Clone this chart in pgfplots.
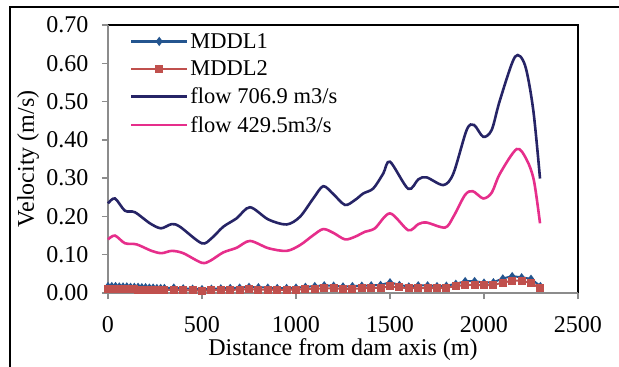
\documentclass[border=0pt]{standalone}
\usepackage{pgfplots}
\pgfplotsset{compat=1.18}
\usepackage{fontspec}
\setmainfont{Liberation Serif}
\definecolor{mddlone}{HTML}{24558F}
\definecolor{mddltwo}{HTML}{C0504D}
\definecolor{flowa}{HTML}{262466}
\definecolor{flowb}{HTML}{E62E8B}
\definecolor{axgrey}{HTML}{8C8C8C}
\begin{document}
\begin{tikzpicture}
\begin{axis}[
  at={(0,0)}, anchor=south west,
  scale only axis, width=470pt, height=268pt,
  xmin=0, xmax=2500, ymin=0, ymax=0.7,
  xtick={0,500,1000,1500,2000,2500},
  ytick={0,0.1,0.2,0.3,0.4,0.5,0.6,0.7},
  /pgf/number format/assume math mode=true,
  /pgf/number format/1000 sep={},
  yticklabel style={/pgf/number format/fixed,/pgf/number format/fixed zerofill,/pgf/number format/precision=2, xshift=-10pt},
  xticklabel style={yshift=-14pt},
  tick label style={font=\fontsize{24}{28}\selectfont},
  label style={font=\fontsize{24}{28}\selectfont},
  xlabel={Distance from dam axis (m)},
  ylabel={Velocity (m/s)},
  xlabel style={at={(axis description cs:0.5,-0.213)}, anchor=center},
  ylabel style={at={(axis description cs:-0.170,0.5)}, anchor=center},
  xtick pos=left, ytick pos=left,
  tick align=outside,
  major tick length=6pt,
  tick style={axgrey, line width=1.5pt},
  axis line style={draw=none},
  clip=false,
  legend style={at={(0.04,0.985)}, anchor=north west, draw=none, fill=none,
    font=\fontsize{22.5}{26}\selectfont, row sep=7pt,
    /tikz/every even column/.append style={column sep=2pt}},
  legend cell align=left,
  legend image code/.code={\draw[mark repeat=2, mark phase=2, #1, line width=2.5pt] plot coordinates {(0pt,0pt) (28pt,0pt) (56pt,0pt)};},
]
\draw[black, line width=1.5pt] (rel axis cs:0,1) -- (rel axis cs:1,1) -- (rel axis cs:1,0);
\draw[axgrey, line width=2pt] (rel axis cs:0,1) -- (rel axis cs:0,0) -- (rel axis cs:1,0);

\addplot[mddlone, line width=2pt, mark=diamond*, mark size=2.6pt, mark options={solid}] coordinates {
(0,0.018)(20,0.018)(40,0.018)(60,0.017)(80,0.017)(100,0.017)(120,0.016)(140,0.016)(160,0.016)(180,0.015)(200,0.015)(220,0.014)(240,0.014)(260,0.013)(280,0.013)(300,0.013)
(350,0.014)(400,0.012)(450,0.011)(500,0.010)(550,0.011)(600,0.012)(650,0.013)(700,0.014)(750,0.016)(800,0.015)(850,0.014)(900,0.013)(950,0.013)(1000,0.014)(1050,0.016)(1100,0.018)(1150,0.020)(1200,0.019)(1250,0.017)(1300,0.018)(1350,0.019)(1400,0.020)(1450,0.021)(1500,0.028)(1550,0.021)(1600,0.017)(1650,0.020)(1700,0.020)(1750,0.018)(1800,0.019)(1850,0.024)(1900,0.031)(1950,0.031)(2000,0.027)(2050,0.028)(2100,0.038)(2150,0.044)(2200,0.041)(2250,0.037)(2300,0.018)
};
\addlegendentry{MDDL1}
\addplot[mddltwo, line width=2pt, mark=square*, mark size=3pt, mark options={solid}] coordinates {
(0,0.011)(20,0.011)(40,0.011)(60,0.011)(80,0.010)(100,0.010)(120,0.010)(140,0.010)(160,0.009)(180,0.009)(200,0.009)(220,0.008)(240,0.008)(260,0.008)(280,0.008)(300,0.008)
(350,0.008)(400,0.007)(450,0.007)(500,0.006)(550,0.007)(600,0.008)(650,0.008)(700,0.009)(750,0.010)(800,0.009)(850,0.009)(900,0.008)(950,0.008)(1000,0.009)(1050,0.010)(1100,0.011)(1150,0.012)(1200,0.012)(1250,0.011)(1300,0.011)(1350,0.012)(1400,0.013)(1450,0.014)(1500,0.017)(1550,0.015)(1600,0.012)(1650,0.013)(1700,0.013)(1750,0.013)(1800,0.014)(1850,0.018)(1900,0.021)(1950,0.021)(2000,0.020)(2050,0.021)(2100,0.027)(2150,0.032)(2200,0.032)(2250,0.026)(2300,0.012)
};
\addlegendentry{MDDL2}
\addplot[flowa, line width=2.6pt, smooth, tension=0.5] coordinates {
(0,0.234)(37,0.247)(90,0.215)(143,0.211)(223,0.182)(282,0.169)(339,0.180)(383,0.173)(498,0.130)(551,0.143)(613,0.173)(684,0.195)(755,0.224)(853,0.192)(950,0.179)(1021,0.199)(1092,0.247)(1145,0.279)(1199,0.258)(1261,0.230)(1314,0.243)(1358,0.260)(1411,0.273)(1464,0.312)(1500,0.343)(1597,0.272)(1651,0.297)(1695,0.302)(1784,0.282)(1837,0.312)(1908,0.426)(1947,0.439)(1996,0.408)(2041,0.426)(2085,0.504)(2165,0.617)(2218,0.595)(2262,0.478)(2298,0.299)
};
\addlegendentry{flow 706.9 m3/s}
\addplot[flowb, line width=2.6pt, smooth, tension=0.5] coordinates {
(0,0.140)(37,0.150)(90,0.130)(152,0.127)(232,0.110)(285,0.104)(339,0.110)(400,0.104)(498,0.079)(543,0.084)(613,0.106)(684,0.118)(755,0.136)(853,0.117)(950,0.110)(1021,0.125)(1092,0.151)(1145,0.167)(1199,0.157)(1261,0.140)(1314,0.147)(1367,0.160)(1420,0.169)(1500,0.208)(1597,0.164)(1651,0.180)(1695,0.184)(1793,0.171)(1837,0.199)(1899,0.256)(1940,0.266)(1996,0.247)(2041,0.262)(2085,0.312)(2174,0.376)(2225,0.350)(2265,0.295)(2298,0.182)
};
\addlegendentry{flow 429.5m3/s}
\end{axis}
\draw[black, line width=1.5pt] (-98pt,-74pt) -- (-98pt,286pt) -- (511pt,286pt);
\pgfresetboundingbox
\path[use as bounding box] (-108pt,-74pt) rectangle (511pt,293pt);
\end{tikzpicture}
\end{document}
